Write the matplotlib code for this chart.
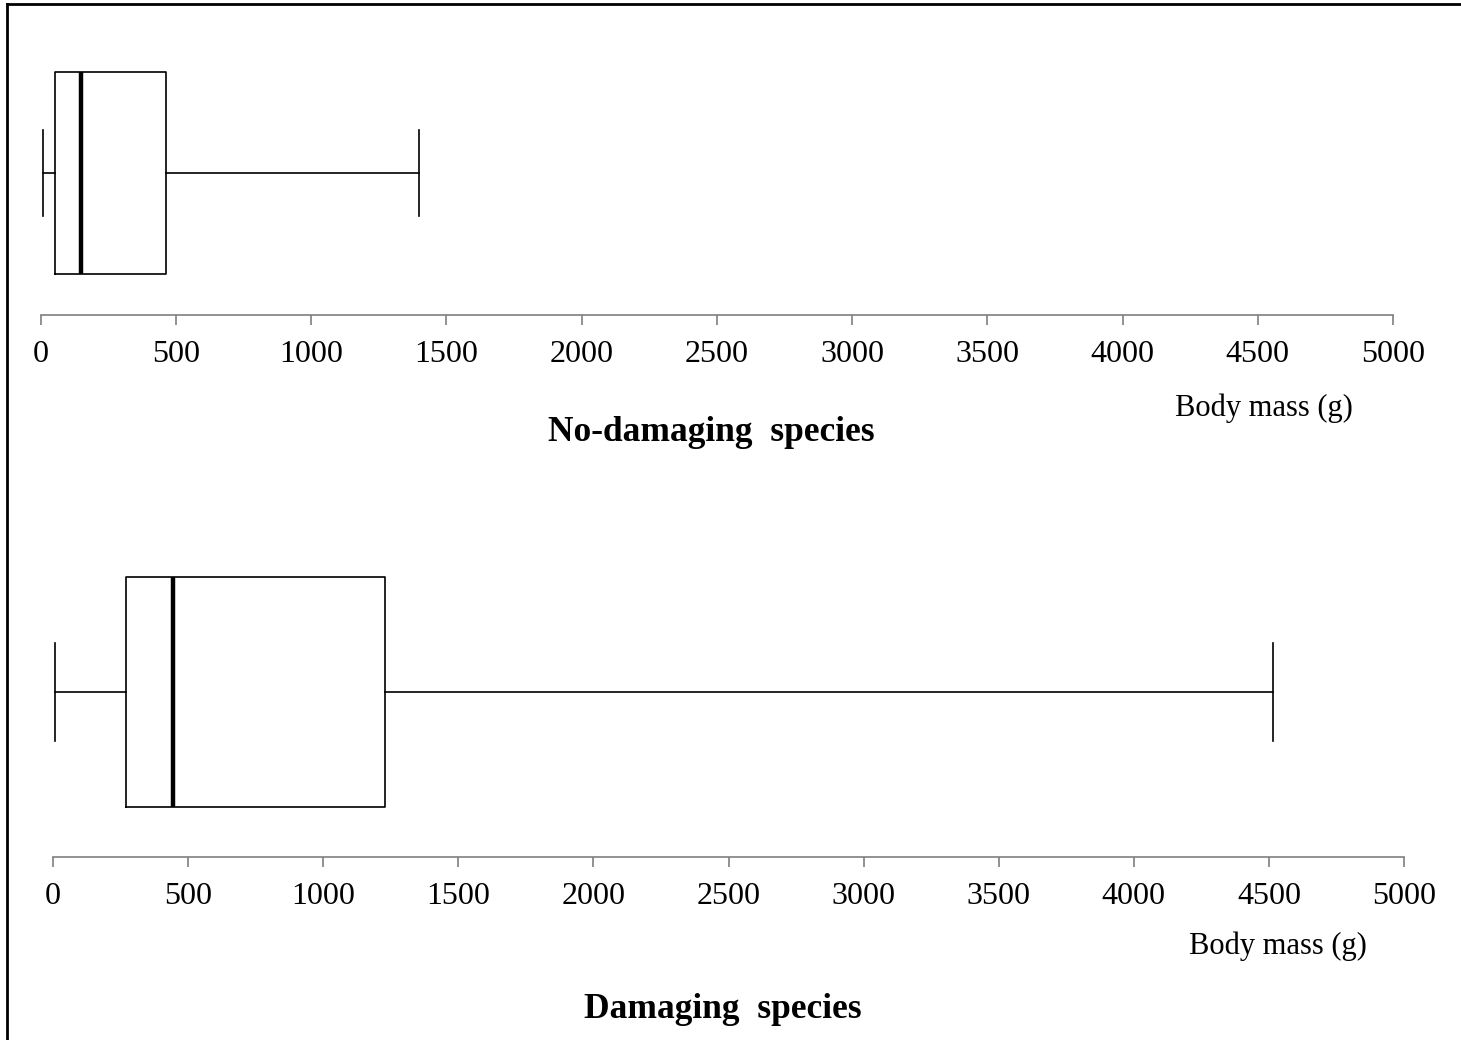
""" Body mass of no-damaging vs damaging species, as two horizontal box plots. """
import matplotlib
matplotlib.use('Agg')
import matplotlib.pyplot as plt
from matplotlib.lines import Line2D


# data (g)
groups = ['No-damaging  species', 'Damaging  species']
whislo = [9, 7]
q1 = [54, 270]
med = [150, 444]
q3 = [464, 1229]
whishi = [1400, 4514]
ticks = [0, 500, 1000, 1500, 2000, 2500, 3000, 3500, 4000, 4500, 5000]
xlabel = 'Body mass (g)'
# fig config
W, H = 1461, 1040
fsize_tick = 23
fsize_xlabel = 22
fsize_title = 25.5
font = 'Liberation Serif'
axis_color = '#7f7f7f'
# panel layout in pixels: x0, x1, spine y, top y, box centre y, box height
panels = [
    dict(x0=40.5, x1=1393, ybot=315, ytop=40, yc=173, bh=202, xl=(1264, 408), tt=(711, 432)),
    dict(x0=53, x1=1404, ybot=857, ytop=540, yc=692, bh=230, xl=(1278, 946), tt=(723, 1010)),
]


def fx(px): return px / W
def fy(py): return 1 - py / H


fig = plt.figure(figsize=(W/100, H/100), dpi=100)
plt.rcParams['font.family'] = [font, 'DejaVu Serif']

for i, p in enumerate(panels):
    ax = fig.add_axes([fx(p['x0']), fy(p['ybot']), fx(p['x1']) - fx(p['x0']),
                       fy(p['ytop']) - fy(p['ybot'])])
    stats = [{'whislo': whislo[i], 'q1': q1[i], 'med': med[i], 'q3': q3[i],
              'whishi': whishi[i], 'fliers': []}]
    ax.bxp(stats, positions=[0], widths=[1.0], capwidths=[0.43],
           orientation='horizontal', showfliers=False, patch_artist=False,
           boxprops=dict(color='k', linewidth=1.2),
           medianprops=dict(color='k', linewidth=3.2, solid_capstyle='butt'),
           whiskerprops=dict(color='k', linewidth=1.2),
           capprops=dict(color='k', linewidth=1.2))
    ax.set_xlim(0, 5000)
    ax.set_ylim(-(p['ybot'] - p['yc']) / p['bh'], (p['yc'] - p['ytop']) / p['bh'])
    ax.set_xticks(ticks)
    ax.set_xticklabels([str(t) for t in ticks], fontsize=fsize_tick)
    ax.set_yticks([])
    for s in ['top', 'right', 'left']:
        ax.spines[s].set_visible(False)
    ax.spines['bottom'].set_color(axis_color)
    ax.spines['bottom'].set_linewidth(1.2)
    ax.tick_params(axis='x', direction='out', length=7.5, width=1.2,
                   color=axis_color, labelcolor='k', pad=10.5)
    ax.patch.set_alpha(0)
    fig.text(fx(p['xl'][0]), fy(p['xl'][1]), xlabel, fontsize=fsize_xlabel,
             ha='center', va='center')
    fig.text(fx(p['tt'][0]), fy(p['tt'][1]), groups[i], fontsize=fsize_title,
             fontweight='bold', ha='center', va='center')

# frame lines on the left and top of the figure
fig.add_artist(Line2D([fx(7), fx(7)], [fy(4), 0], color='k', linewidth=2))
fig.add_artist(Line2D([fx(7), 1], [fy(4), fy(4)], color='k', linewidth=2))

fig.savefig('out.png', dpi=100)
